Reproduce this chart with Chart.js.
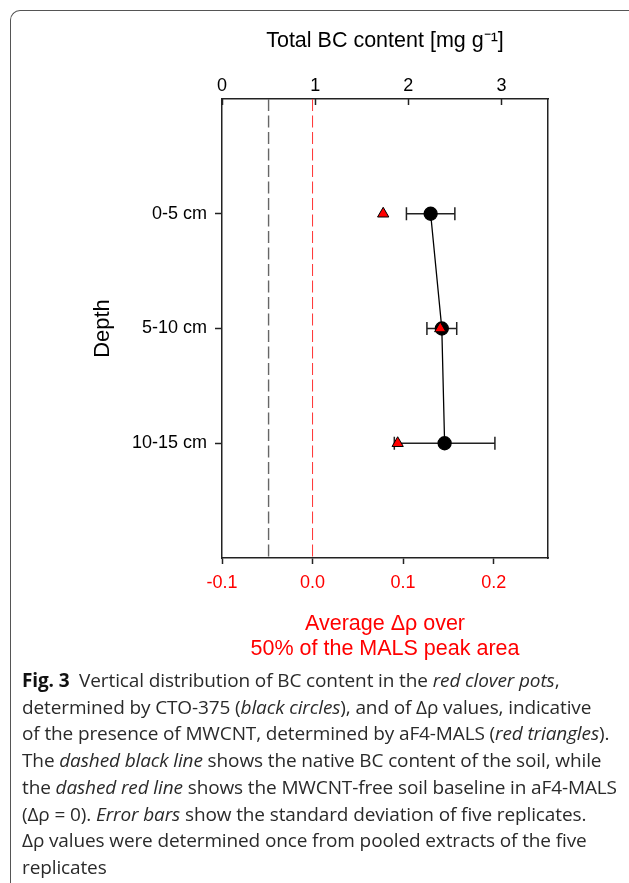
<!DOCTYPE html>
<html>
<head>
<meta charset="utf-8">
<script src="https://cdn.jsdelivr.net/npm/chart.js@4"></script>
<style>
  html, body { margin: 0; padding: 0; background: #fff; }
  body { width: 629px; height: 883px; position: relative; overflow: hidden; }
  #wrap { position: absolute; left: 0; top: 0; width: 629px; height: 670px; }
  .frame { position: absolute; left: 10px; top: 10px; width: 640px; height: 900px;
    border-left: 1.5px solid #555; border-top: 1.5px solid #555; border-top-left-radius: 10px; }
  .caption { position: absolute; left: 22px; top: 667px; width: 605px;
    font-family: "Open Sans", sans-serif; font-size: 19px; line-height: 26.7px; color: #2a2a2a;
    letter-spacing: -0.12px; white-space: nowrap; }
  .caption b { font-weight: 700; color: #111; }
</style>
</head>
<body>
<div id="wrap"><canvas id="chart"></canvas></div>
<div class="frame"></div>
<div class="caption"><b>Fig. 3</b>&nbsp; Vertical distribution of BC content in the <i>red clover pots</i>,<br>determined by CTO-375 (<i>black circles</i>), and of Δρ values, indicative<br>of the presence of MWCNT, determined by aF4-MALS (<i>red triangles</i>).<br>The <i>dashed black line</i> shows the native BC content of the soil, while<br>the <i>dashed red line</i> shows the MWCNT-free soil baseline in aF4-MALS<br>(Δρ = 0). <i>Error bars</i> show the standard deviation of five replicates.<br>Δρ values were determined once from pooled extracts of the five<br>replicates</div>
<script>
// depth classes (plotted at 1, 2, 3 on a reversed 0..4 scale)
const depthLabels = ["0-5 cm", "5-10 cm", "10-15 cm"];
const depthPos = [1, 2, 3];

// total BC content, CTO-375 [mg/g] with standard deviation
const bcMean = [2.24, 2.36, 2.39];
const bcSd = [0.26, 0.16, 0.54];

// average delta rho, aF4-MALS
const deltaRho = [0.078, 0.141, 0.094];

// reference lines
const nativeBC = 0.5;
const baselineRho = 0;

// tick labels
const topTicks = [0, 1, 2, 3];
const bottomTicks = [-0.1, 0.0, 0.1, 0.2];

const RED = "#ff0000";
const FONT = "'Liberation Sans', Arial, sans-serif";

const errorBars = {
  id: "errorBars",
  beforeDatasetsDraw(chart) {
    const ctx = chart.ctx;
    const xs = chart.scales.x2;
    const ys = chart.scales.y;
    ctx.save();
    ctx.strokeStyle = "#222";
    ctx.lineWidth = 1.5;
    bcMean.forEach((m, i) => {
      const y = ys.getPixelForValue(depthPos[i]);
      const x0 = xs.getPixelForValue(m - bcSd[i]);
      const x1 = xs.getPixelForValue(m + bcSd[i]);
      ctx.beginPath();
      ctx.moveTo(x0, y); ctx.lineTo(x1, y);
      ctx.moveTo(x0, y - 6.5); ctx.lineTo(x0, y + 6.5);
      ctx.moveTo(x1, y - 6.5); ctx.lineTo(x1, y + 6.5);
      ctx.stroke();
    });
    ctx.restore();
  },
};

const ctx = document.getElementById("chart");

new Chart(ctx, {
  type: "scatter",
  data: {
    datasets: [
      {
        label: "Δρ",
        xAxisID: "x",
        yAxisID: "y",
        data: deltaRho.map((v, i) => ({ x: v, y: depthPos[i] })),
        pointStyle: "triangle",
        pointRadius: 6.5,
        backgroundColor: RED,
        borderColor: "#000",
        borderWidth: 1,
        showLine: false,
        order: 0,
      },
      {
        label: "BC",
        xAxisID: "x2",
        yAxisID: "y",
        data: bcMean.map((v, i) => ({ x: v, y: depthPos[i] })),
        pointStyle: "circle",
        pointRadius: 6.5,
        backgroundColor: "#000",
        borderColor: "#000",
        showLine: true,
        borderWidth: 1.3,
        order: 1,
      },
      {
        label: "native BC",
        xAxisID: "x2",
        yAxisID: "y",
        data: [{ x: nativeBC, y: 0 }, { x: nativeBC, y: 4 }],
        showLine: true,
        pointRadius: 0,
        borderColor: "#666",
        borderWidth: 1.4,
        borderDash: [12, 4.5],
        order: 2,
      },
      {
        label: "baseline",
        xAxisID: "x",
        yAxisID: "y",
        data: [{ x: baselineRho, y: 0 }, { x: baselineRho, y: 4 }],
        showLine: true,
        pointRadius: 0,
        borderColor: "#ff3333",
        borderWidth: 1,
        borderDash: [12, 4.5],
        order: 3,
      },
    ],
  },
  options: {
    responsive: true,
    maintainAspectRatio: false,
    animation: false,
    layout: { padding: { left: 0, right: 81, top: 0, bottom: 9 } },
    plugins: { legend: { display: false }, tooltip: { enabled: false } },
    scales: {
      x: {
        type: "linear",
        position: "bottom",
        min: -0.1,
        max: 0.26,
        afterBuildTicks: (s) => { s.ticks = bottomTicks.map((v) => ({ value: v })); },
        afterFit: (s) => { s.height = 103; },
        ticks: {
          color: RED,
          padding: 8.7,
          font: { family: FONT, size: 18, lineHeight: 1.2 },
          callback: (v) => Number(v).toFixed(1),
        },
        grid: { drawOnChartArea: false, drawTicks: true, tickLength: 6, color: "#222", tickWidth: 1.5 },
        border: { display: true, color: "#222", width: 1.5 },
        title: {
          display: true,
          text: ["Average Δρ over", "50% of the MALS peak area"],
          color: RED,
          font: { family: FONT, size: 21.5, lineHeight: 1.15 },
          padding: { top: 0, bottom: 0 },
        },
      },
      x2: {
        type: "linear",
        position: "top",
        min: 0,
        max: 3.5,
        afterBuildTicks: (s) => { s.ticks = topTicks.map((v) => ({ value: v })); },
        afterFit: (s) => { s.height = 99; },
        ticks: {
          color: "#000",
          padding: 8.2,
          font: { family: FONT, size: 18, lineHeight: 1.2 },
          callback: (v) => String(v),
        },
        grid: { drawOnChartArea: false, drawTicks: true, tickLength: -6, color: "#222", tickWidth: 1.5 },
        border: { display: true, color: "#222", width: 1.5 },
        title: {
          display: true,
          text: "Total BC content [mg g⁻¹]",
          color: "#000",
          font: { family: FONT, size: 21.5, lineHeight: 1.2 },
          padding: { top: 28, bottom: 0 },
        },
      },
      y: {
        type: "linear",
        position: "left",
        reverse: true,
        min: 0,
        max: 4,
        afterBuildTicks: (s) => { s.ticks = depthPos.map((v) => ({ value: v })); },
        afterFit: (s) => { s.width = 222; },
        ticks: {
          color: "#000",
          padding: 8,
          font: { family: FONT, size: 18, lineHeight: 1.2 },
          callback: (v) => depthLabels[depthPos.indexOf(v)],
        },
        grid: { drawOnChartArea: false, drawTicks: true, tickLength: 7, color: "#222", tickWidth: 1.5 },
        border: { display: true, color: "#222", width: 1.5 },
        title: {
          display: true,
          text: "Depth",
          color: "#000",
          font: { family: FONT, size: 22, lineHeight: 1.2 },
          padding: { top: 90, bottom: 0 },
        },
      },
      y2: {
        type: "linear",
        position: "right",
        min: 0,
        max: 4,
        afterFit: (s) => { s.width = 0; },
        ticks: { display: false },
        grid: { drawOnChartArea: false, drawTicks: false },
        border: { display: true, color: "#222", width: 1.5 },
      },
    },
  },
  plugins: [errorBars],
});
</script>
</body>
</html>
